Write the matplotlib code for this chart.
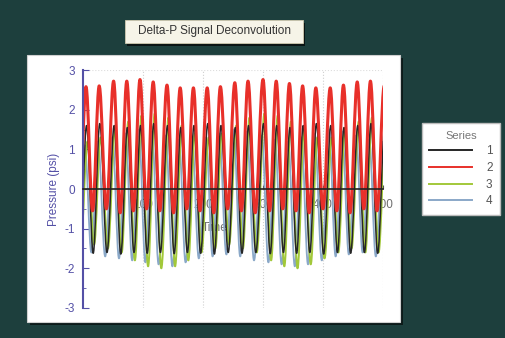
import matplotlib
matplotlib.use('Agg')
import matplotlib.pyplot as plt
from matplotlib.path import Path
from matplotlib.patches import PathPatch, Rectangle
from matplotlib.lines import Line2D

plt.rcParams['font.family'] = ['Liberation Sans', 'DejaVu Sans']
plt.rcParams['axes.unicode_minus'] = False

# times of the wave crests and troughs
peak_t = [5, 27, 51, 73, 95, 117, 140, 162, 184, 207, 229, 253,
          275, 300, 322, 344, 366, 388, 412, 434, 457, 479, 502]
trough_t = [-6, 16, 39, 62, 84, 106, 128, 151, 173, 195, 218, 241,
            264, 287, 311, 333, 355, 377, 400, 423, 445, 468, 490]

series_names = ['1', '2', '3', '4']
series_shift = [1.0, 0.0, 2.5, -2.0]

peaks_1 = [1.6, 1.65, 1.6, 1.55, 1.6, 1.65, 1.6, 1.55, 1.6, 1.65, 1.6, 1.55,
           1.6, 1.65, 1.6, 1.55, 1.6, 1.65, 1.6, 1.55, 1.6, 1.65, 1.6]
troughs_1 = [-1.6, -1.62, -1.6, -1.64, -1.6, -1.62, -1.6, -1.63, -1.6, -1.62, -1.64, -1.6,
             -1.62, -1.6, -1.63, -1.6, -1.62, -1.6, -1.64, -1.6, -1.62, -1.6, -1.62]

peaks_2 = [2.58, 2.60, 2.72, 2.72, 2.76, 2.70, 2.62, 2.55, 2.55, 2.55, 2.58, 2.68,
           2.72, 2.76, 2.72, 2.66, 2.60, 2.55, 2.55, 2.62, 2.70, 2.72, 2.6]
troughs_2 = [-0.5, -0.55, -0.5, -0.6, -0.55, -0.5, -0.55, -0.6, -0.5, -0.55, -0.6, -0.5,
             -0.55, -0.6, -0.55, -0.5, -0.55, -0.6, -0.5, -0.55, -0.6, -0.5, -0.55]

peaks_3 = [1.2, 1.3, 1.5, 1.7, 1.85, 1.9, 1.8, 1.6, 1.4, 1.3, 1.4, 1.6,
           1.8, 1.9, 1.85, 1.7, 1.5, 1.3, 1.3, 1.5, 1.7, 1.8, 1.6]
troughs_3 = [-1.3, -1.4, -1.5, -1.6, -1.8, -1.95, -2.0, -1.95, -1.8, -1.6, -1.5, -1.4,
             -1.5, -1.6, -1.8, -1.95, -2.0, -1.9, -1.75, -1.6, -1.5, -1.6, -1.6]

peaks_4 = [1.1, 1.2, 1.3, 1.4, 1.5, 1.45, 1.35, 1.25, 1.2, 1.3, 1.4, 1.5,
           1.45, 1.35, 1.25, 1.2, 1.3, 1.4, 1.5, 1.45, 1.35, 1.25, 1.2]
troughs_4 = [-1.5, -1.6, -1.7, -1.75, -1.8, -1.85, -1.9, -1.95, -1.85, -1.75, -1.7, -1.65,
             -1.7, -1.8, -1.85, -1.9, -1.95, -1.9, -1.8, -1.7, -1.65, -1.6, -1.7]

x_ticks = [100, 200, 300, 400, 500]
y_ticks = [-3, -2, -1, 0, 1, 2, 3]

peaks = [peaks_1, peaks_2, peaks_3, peaks_4]
troughs = [troughs_1, troughs_2, troughs_3, troughs_4]
colors = ['#262626', '#e8302a', '#a2c83a', '#8aa8c8']
widths = [1.1, 2.2, 1.4, 1.3]
zorders = [2.25, 2.3, 2.2, 2.1]

bg = '#1d3f3d'
purple = '#5450a6'


def wave_path(t, v, k=0.36):
    # smooth crest-to-trough segments, flat at each extremum
    verts = [(t[0], v[0])]
    codes = [Path.MOVETO]
    for i in range(1, len(t)):
        dt = t[i] - t[i - 1]
        verts += [(t[i - 1] + k * dt, v[i - 1]), (t[i] - k * dt, v[i]), (t[i], v[i])]
        codes += [Path.CURVE4] * 3
    return Path(verts, codes)


fig = plt.figure(figsize=(5.06, 3.38), dpi=100, facecolor=bg)

# white panel with drop shadow
fig.patches.append(Rectangle((0.0594, 0.038), 0.737, 0.790, transform=fig.transFigure,
                             facecolor='#0c1a19', edgecolor='none', zorder=-2))
fig.patches.append(Rectangle((0.0534, 0.0473), 0.737, 0.790, transform=fig.transFigure,
                             facecolor='white', edgecolor='#d0d0d0', lw=0.8, zorder=-1))

# title box
fig.patches.append(Rectangle((0.251, 0.864), 0.352, 0.068, transform=fig.transFigure,
                             facecolor='#0a1414', edgecolor='none', zorder=-2))
fig.patches.append(Rectangle((0.247, 0.873), 0.352, 0.068, transform=fig.transFigure,
                             facecolor='#f6f4e8', edgecolor='#cfcab0', lw=0.6, zorder=-1))
fig.text(0.423, 0.907, 'Delta-P Signal Deconvolution', ha='center', va='center',
         fontsize=8.5, color='#333333')

ax = fig.add_axes([0.164, 0.0888, 0.593, 0.704])
ax.set_zorder(1)
ax.set_facecolor('none')
ax.set_axisbelow(True)

for j in range(4):
    t = []
    v = []
    for i in range(len(peak_t)):
        t += [trough_t[i] + series_shift[j], peak_t[i] + series_shift[j]]
        v += [troughs[j][i], peaks[j][i]]
    ax.add_patch(PathPatch(wave_path(t, v), facecolor='none', edgecolor=colors[j],
                           lw=widths[j], zorder=zorders[j], joinstyle='round'))

ax.set_xlim(0, 500)
ax.set_ylim(-3, 3)

ax.spines['top'].set_visible(False)
ax.spines['right'].set_visible(False)
ax.spines['bottom'].set_position(('data', 0))
ax.spines['bottom'].set_color('#222222')
ax.spines['bottom'].set_linewidth(1.2)
ax.spines['bottom'].set_zorder(3)
ax.spines['left'].set_color(purple)
ax.spines['left'].set_linewidth(1.5)

ax.set_xticks(x_ticks)
ax.set_xticklabels([str(x) for x in x_ticks])
ax.set_yticks(y_ticks)
ax.set_yticks([y + 0.5 for y in y_ticks[:-1]], minor=True)
ax.tick_params(axis='x', direction='in', length=3, color='#555555', labelsize=8.5,
               labelcolor='#6e6e6e', pad=7)
ax.tick_params(axis='y', direction='in', length=4, color=purple, labelsize=8.5,
               labelcolor=purple, pad=6)
ax.tick_params(axis='y', which='minor', direction='in', length=2, color=purple)
ax.grid(axis='x', color='#cfcfcf', ls=':', lw=0.8)
ax.axhline(3, color='#dddddd', ls=':', lw=0.8, zorder=0.5)

ax.set_ylabel('Pressure (psi)', color=purple, fontsize=8.5, labelpad=3)
ax.text(220, -0.98, 'Time', ha='center', va='center', fontsize=8.5, color='#6e6e6e', zorder=1)

handles = [Line2D([], [], color=colors[j], lw=1.4) for j in range(4)]
leg = fig.legend(handles, series_names, title='Series', loc='center',
                 bbox_to_anchor=(0.911, 0.5), fontsize=8.5, title_fontsize=8,
                 markerfirst=True, handlelength=3.6, handletextpad=1.2,
                 labelspacing=0.4, borderpad=0.65, fancybox=False,
                 framealpha=1, edgecolor='#bbbbbb')
leg.get_title().set_color('#777777')
for txt in leg.get_texts():
    txt.set_color('#555555')
leg.get_frame().set_linewidth(1.0)

fig.savefig('out.png', dpi=100, facecolor=bg)
